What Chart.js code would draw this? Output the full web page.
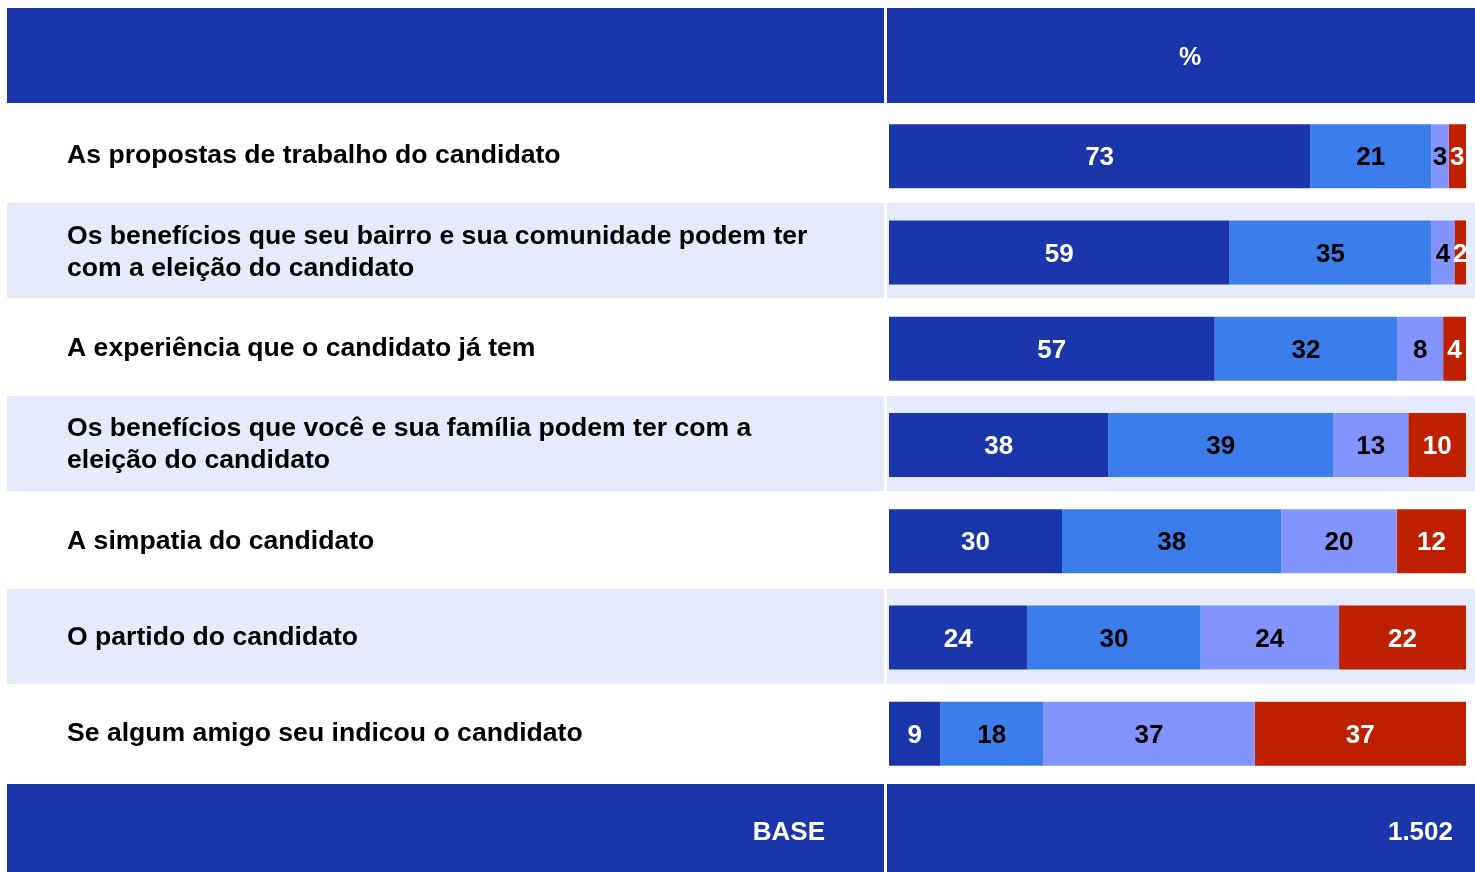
<!DOCTYPE html>
<html><head><meta charset="utf-8">
<script src="https://cdn.jsdelivr.net/npm/chart.js@4.4.0/dist/chart.umd.min.js"></script>
<style>html,body{margin:0;padding:0;background:#fff;overflow:hidden}#wrap{width:1475px;height:872px;position:relative}</style>
</head><body><div id="wrap"><canvas id="c"></canvas></div>
<script>
const categories = [
  "As propostas de trabalho do candidato",
  ["Os benefícios que seu bairro e sua comunidade podem ter", "com a eleição do candidato"],
  "A experiência que o candidato já tem",
  ["Os benefícios que você e sua família podem ter com a", "eleição do candidato"],
  "A simpatia do candidato",
  "O partido do candidato",
  "Se algum amigo seu indicou o candidato"
];
const series1 = [73, 59, 57, 38, 30, 24, 9];
const series2 = [21, 35, 32, 39, 38, 30, 18];
const series3 = [3, 4, 8, 13, 20, 24, 37];
const series4 = [3, 2, 4, 10, 12, 22, 37];
const headerLabel = "%";
const baseLabel = "BASE";
const baseValue = "1.502";

const DARK = '#1936AB', MID = '#3B7DEB', LIGHT = '#8494FF', RED = '#BE2000', BAND = '#E6EBFB';
const FONT = '"Liberation Sans", Arial, sans-serif';
const allSeries = [series1, series2, series3, series4];
const totals = categories.map((_, i) => allSeries.reduce((s, a) => s + a[i], 0));
const share = arr => arr.map((v, i) => v / totals[i] * 100);

const tablePlugin = {
  id: 'table',
  beforeDraw(chart) {
    const ctx = chart.ctx, y = chart.scales.y;
    ctx.save();
    ctx.fillStyle = DARK;
    ctx.fillRect(7, 8, 877, 95);
    ctx.fillRect(887, 8, 588, 95);
    ctx.fillRect(7, 784, 877, 88);
    ctx.fillRect(887, 784, 588, 88);
    ctx.fillStyle = BAND;
    for (let i = 1; i < categories.length; i += 2) {
      const c = y.getPixelForValue(i);
      ctx.fillRect(7, Math.round(c - 49), 877, 95);
      ctx.fillRect(887, Math.round(c - 49), 588, 95);
    }
    ctx.fillStyle = '#fff';
    ctx.font = 'bold 25px ' + FONT;
    ctx.textBaseline = 'middle';
    ctx.textAlign = 'center';
    ctx.fillText(headerLabel, 1190, 58);
    ctx.textAlign = 'right';
    ctx.font = 'bold 26px ' + FONT;
    ctx.fillText(baseLabel, 825, 833);
    ctx.fillText(baseValue, 1453, 833);
    ctx.restore();
  },
  afterDatasetsDraw(chart) {
    const ctx = chart.ctx;
    ctx.save();
    ctx.font = 'bold 26px ' + FONT;
    ctx.textAlign = 'center';
    ctx.textBaseline = 'middle';
    chart.data.datasets.forEach((ds, di) => {
      const meta = chart.getDatasetMeta(di);
      meta.data.forEach((el, i) => {
        ctx.fillStyle = (di === 0 || di === 3) ? '#fff' : '#000';
        ctx.fillText(String(ds.raw[i]), (el.x + el.base) / 2, el.y + 2);
      });
    });
    ctx.restore();
  }
};

const mk = (label, arr, color) => ({
  label, raw: arr, data: share(arr), backgroundColor: color,
  borderWidth: 0, barPercentage: 0.665, categoryPercentage: 1
});

new Chart(document.getElementById('c'), {
  type: 'bar',
  data: {
    labels: categories,
    datasets: [
      mk('Série 1', series1, DARK),
      mk('Série 2', series2, MID),
      mk('Série 3', series3, LIGHT),
      mk('Série 4', series4, RED)
    ]
  },
  options: {
    indexAxis: 'y',
    responsive: true,
    maintainAspectRatio: false,
    animation: false,
    layout: { padding: { left: 67, top: 108, bottom: 90, right: 9 } },
    plugins: { legend: { display: false }, tooltip: { enabled: false } },
    scales: {
      x: { stacked: true, min: 0, max: 100, display: false },
      y: {
        stacked: true,
        grid: { display: false },
        border: { display: false },
        afterFit(scale) { scale.width = 822; },
        ticks: {
          crossAlign: 'far',
          color: '#000',
          padding: 0,
          font: { family: FONT, size: 26.6, weight: 'bold', lineHeight: 1.2 }
        }
      }
    }
  },
  plugins: [tablePlugin]
});
</script></body></html>
